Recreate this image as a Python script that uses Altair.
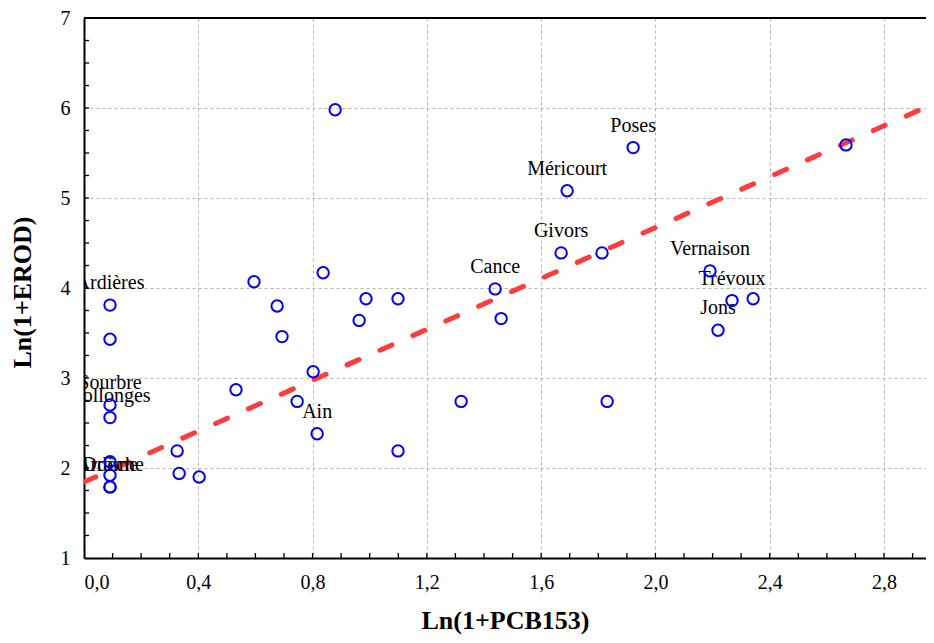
import altair as alt
import pandas as pd

# Data
pcb = [0.091, 0.091, 0.091, 0.091, 0.091, 0.091, 0.091, 0.091,
       0.326, 0.333, 0.403, 0.532, 0.595, 0.676, 0.693, 0.746, 0.802,
       0.816, 0.837, 0.879, 0.963, 0.987, 1.099, 1.099, 1.320, 1.439,
       1.460, 1.670, 1.691, 1.813, 1.831, 1.922, 2.191, 2.268, 2.342,
       2.219, 2.667]
erod = [3.81, 3.43, 2.70, 2.56, 2.07, 1.92, 1.79, 1.79,
        2.19, 1.94, 1.90, 2.87, 4.07, 3.80, 3.46, 2.74, 3.07,
        2.38, 4.17, 5.98, 3.64, 3.88, 3.88, 2.19, 2.74, 3.99,
        3.66, 4.39, 5.08, 4.39, 2.74, 5.56, 4.19, 3.86, 3.88,
        3.53, 5.59]
site = ["Ardières", "", "Sourbre", "Collonges", "", "", "Drôme", "Ardèche",
        "", "", "", "", "", "", "", "", "",
        "Ain", "", "", "", "", "", "", "", "Cance",
        "", "Givors", "Méricourt", "", "", "Poses", "Vernaison", "Trévoux", "",
        "Jons", ""]

# Fitted line
fit_x = [0.0, 2.947]
fit_y = [1.844, 6.01]

x_major = [0.0, 0.4, 0.8, 1.2, 1.6, 2.0, 2.4, 2.8]
y_major = [1, 2, 3, 4, 5, 6, 7]
x_minor = [round(0.1 * i, 1) for i in range(1, 30)]
y_minor = [1 + 0.25 * i for i in range(1, 24)]

W, H = 842, 540
XDOM = [0, 2.947]
YDOM = [1, 7]
FONT = "Liberation Serif"

df = pd.DataFrame({"x": pcb, "y": erod, "site": site})
lab = df[df["site"] != ""]
fit = pd.DataFrame({"x": fit_x, "y": fit_y})

xs = alt.Scale(domain=XDOM, nice=False, zero=False)
ys = alt.Scale(domain=YDOM, nice=False, zero=False)

xaxis = alt.Axis(
    values=x_major,
    labelExpr="replace(format(datum.value, '.1f'), '.', ',')",
    title="Ln(1+PCB153)",
    titleFont=FONT, titleFontSize=26, titleFontWeight="bold", titleColor="black",
    titleY=62, titleBaseline="middle",
    labelFont=FONT, labelFontSize=20, labelColor="black", labelPadding=14,
    domainColor="black", domainWidth=2,
    ticks=False,
    grid=True, gridColor="#b4b4b4", gridDash=[3, 3], gridWidth=1,
    labelOverlap=False,
)
yaxis = alt.Axis(
    values=y_major, format="d",
    title="Ln(1+EROD)",
    titleFont=FONT, titleFontSize=26, titleFontWeight="bold", titleColor="black",
    titleX=-62, titleY=274, titleAngle=-90, titleBaseline="middle", titleAlign="center",
    labelFont=FONT, labelFontSize=20, labelColor="black", labelPadding=14,
    domainColor="black", domainWidth=2,
    ticks=False,
    grid=True, gridColor="#b4b4b4", gridDash=[3, 3], gridWidth=1,
)

base_pts = alt.Chart(df).mark_point(
    shape="circle", filled=False, color="#0000ff", size=130, strokeWidth=2, opacity=1
).encode(
    x=alt.X("x:Q", scale=xs, axis=xaxis),
    y=alt.Y("y:Q", scale=ys, axis=yaxis),
)

line = alt.Chart(fit).mark_line(
    color="#ff3c3c", strokeWidth=5, strokeDash=[13, 23], strokeCap="round", clip=True
).encode(
    x=alt.X("x:Q", scale=xs),
    y=alt.Y("y:Q", scale=ys),
)

labels = alt.Chart(lab).mark_text(
    font=FONT, fontSize=20, color="black", dy=-22, baseline="middle", align="center", clip=True
).encode(
    x=alt.X("x:Q", scale=xs),
    y=alt.Y("y:Q", scale=ys),
    text="site:N",
)

xt = alt.Chart(pd.DataFrame({"x": x_minor})).mark_rule(color="black", strokeWidth=1.3).encode(
    x=alt.X("x:Q", scale=xs), y=alt.value(H), y2=alt.value(H - 5)
)
yt = alt.Chart(pd.DataFrame({"y": y_minor})).mark_rule(color="black", strokeWidth=1.3).encode(
    y=alt.Y("y:Q", scale=ys), x=alt.value(0), x2=alt.value(5)
)
top = alt.Chart(pd.DataFrame({"a": [0]})).mark_rule(color="black", strokeWidth=2).encode(
    x=alt.value(0), x2=alt.value(W), y=alt.value(0)
)

chart = alt.layer(line, labels, base_pts, xt, yt, top).properties(
    width=W, height=H,
    autosize=alt.AutoSizeParams(type="none"),
    padding={"left": 76, "top": 10, "right": 0, "bottom": 77},
).configure_view(stroke=None).configure(background="white")

chart.save("out.html", embed_options={"renderer": "svg", "actions": False})
